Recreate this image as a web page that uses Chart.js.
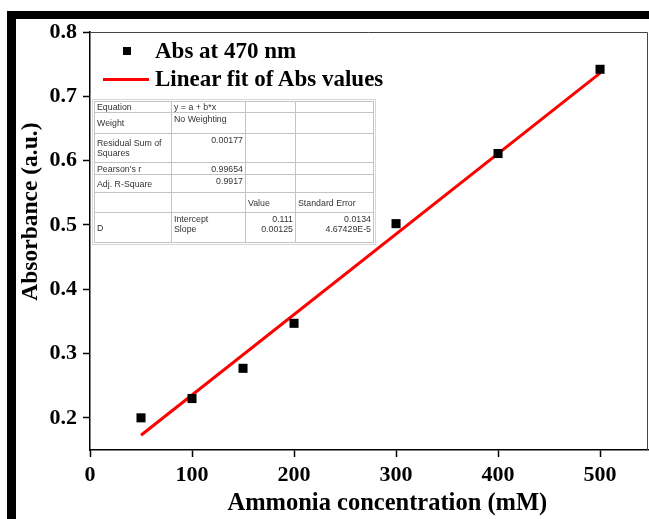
<!DOCTYPE html>
<html>
<head>
<meta charset="utf-8">
<script src="https://cdn.jsdelivr.net/npm/chart.js@4/dist/chart.umd.min.js"></script>
<style>
  html, body { margin: 0; padding: 0; background: #ffffff; }
  #wrap { position: relative; width: 649px; height: 519px; overflow: hidden; background: #ffffff; }
  #c { position: absolute; left: 0; top: 0; }
  .bar { position: absolute; background: #000; }
  #legend { position: absolute; left: 0; top: 0; font-family: 'Liberation Serif', 'Times New Roman', serif; font-weight: bold; font-size: 23px; color: #000; }
  .lg-item { position: absolute; white-space: nowrap; line-height: 26px; }
  #stats { position: absolute; left: 94px; top: 101px; border-collapse: collapse; font-family: 'Liberation Sans', Arial, sans-serif; font-size: 8.8px; color: #333; background: #fff; table-layout: fixed; }
  #stats td { border: 1px solid #c4c4c4; padding: 0 2px; vertical-align: middle; line-height: 10px; overflow: hidden; white-space: pre-line; box-sizing: border-box; }
  #stats td.num { text-align: right; vertical-align: top; padding-top: 1px; }
  #stats td.top { vertical-align: top; padding-top: 1px; }
  #stats { outline: 1px solid #d8d8d8; outline-offset: 1px; }
</style>
</head>
<body>
<div id="wrap">
  <canvas id="c" width="649" height="519"></canvas>
  <div class="bar" style="left:7px;top:11px;width:642px;height:8px;"></div>
  <div class="bar" style="left:7px;top:11px;width:9px;height:508px;"></div>
  <div id="legend"></div>
  <table id="stats"></table>
</div>
<script>
// ---------- data ----------
const concentrations = [50, 100, 150, 200, 300, 400, 500];
const absorbance = [0.200, 0.230, 0.277, 0.347, 0.502, 0.611, 0.742];
const fitConcentrations = [50, 500];
const fitAbsorbance = [0.173, 0.736];
const seriesNames = ['Abs at 470 nm', 'Linear fit of Abs values'];
const xTitle = 'Ammonia concentration (mM)';
const yTitle = 'Absorbance (a.u.)';
const xTickStep = 100;
const yTickStep = 0.1;
const statsRows = [
  ['Equation', 'y = a + b*x', '', ''],
  ['Weight', 'No Weighting', '', ''],
  ['Residual Sum of\nSquares', '0.00177', '', ''],
  ["Pearson's r", '0.99654', '', ''],
  ['Adj. R-Square', '0.9917', '', ''],
  ['', '', 'Value', 'Standard Error'],
  ['D', 'Intercept\nSlope', '0.111\n0.00125', '0.0134\n4.67429E-5']
];

// ---------- stats table ----------
const rowHeights = [11, 21, 29, 9, 18, 20, 30];
const colWidths = [77, 74, 50, 78];
const numCell = (r, c) => (c === 1 && r >= 2 && r <= 4) || (c >= 2 && r === 6);
const stats = document.getElementById('stats');
const cg = document.createElement('colgroup');
colWidths.forEach(w => { const col = document.createElement('col'); col.style.width = w + 'px'; cg.appendChild(col); });
stats.appendChild(cg);
statsRows.forEach((row, r) => {
  const tr = document.createElement('tr');
  tr.style.height = rowHeights[r] + 'px';
  row.forEach((txt, c) => {
    const td = document.createElement('td');
    td.textContent = txt;
    if (numCell(r, c)) td.className = 'num';
    else if ((c === 1 && r === 1) || (r === 6)) td.className = 'top';
    if (r === 6 && c === 0) { td.className = ''; td.style.verticalAlign = 'top'; td.style.paddingTop = '10px'; }
    tr.appendChild(td);
  });
  stats.appendChild(tr);
});

// ---------- legend ----------
const legend = document.getElementById('legend');
legend.innerHTML =
  '<div style="position:absolute;left:123px;top:47px;width:8px;height:8px;background:#000"></div>' +
  '<div class="lg-item" style="left:155px;top:38px">' + seriesNames[0] + '</div>' +
  '<div style="position:absolute;left:103px;top:78px;width:46px;height:3px;background:#ff0000"></div>' +
  '<div class="lg-item" style="left:155px;top:66px">' + seriesNames[1] + '</div>';

// ---------- chart ----------
const framePlugin = {
  id: 'frame',
  afterDatasetsDraw(chart) {
    const { ctx, chartArea: a } = chart;
    ctx.save();
    ctx.strokeStyle = '#444';
    ctx.lineWidth = 1;
    ctx.beginPath();
    ctx.moveTo(a.left, a.top + 0.5);
    ctx.lineTo(a.right - 0.5, a.top + 0.5);
    ctx.lineTo(a.right - 0.5, a.bottom);
    ctx.stroke();
    ctx.restore();
  }
};

const tickFont = { family: "'Liberation Serif', 'Times New Roman', serif", weight: 'bold', size: 22 };
const pad = (n) => '\u00A0'.repeat(n);

new Chart(document.getElementById('c'), {
  type: 'scatter',
  data: {
    datasets: [
      {
        label: seriesNames[0],
        data: concentrations.map((x, i) => ({ x, y: absorbance[i] })),
        pointStyle: 'rect',
        pointRadius: 6.4,
        pointHoverRadius: 6.4,
        backgroundColor: '#000',
        borderColor: '#000',
        borderWidth: 0,
        order: 0
      },
      {
        type: 'line',
        label: seriesNames[1],
        data: fitConcentrations.map((x, i) => ({ x, y: fitAbsorbance[i] })),
        borderColor: '#ff0000',
        borderWidth: 3,
        pointRadius: 0,
        showLine: true,
        fill: false,
        order: 1
      }
    ]
  },
  options: {
    responsive: false,
    animation: false,
    devicePixelRatio: 1,
    layout: { autoPadding: false, padding: { top: 32, right: 1, left: 0, bottom: 0 } },
    plugins: { legend: { display: false }, tooltip: { enabled: false } },
    scales: {
      x: {
        type: 'linear',
        min: 0,
        max: 547,
        afterFit(s) { s.height = 69; s.paddingLeft = 0; s.paddingRight = 0; },
        border: { display: true, color: '#000', width: 1.5 },
        grid: { drawOnChartArea: false, drawTicks: true, tickLength: 7, color: '#000', tickWidth: 1.5 },
        ticks: { stepSize: xTickStep, includeBounds: false, color: '#000', font: tickFont, padding: 5, maxRotation: 0 },
        title: { display: true, text: pad(6) + xTitle, color: '#000', font: { family: tickFont.family, weight: 'bold', size: 24.5 }, padding: { top: 0, bottom: 1 } }
      },
      y: {
        type: 'linear',
        min: 0.15,
        max: 0.8,
        afterFit(s) { s.width = 90; s.paddingTop = 0; s.paddingBottom = 0; },
        border: { display: true, color: '#000', width: 1.5 },
        grid: { drawOnChartArea: false, drawTicks: true, tickLength: 7, color: '#000', tickWidth: 1.5 },
        ticks: { stepSize: yTickStep, includeBounds: false, color: '#000', font: tickFont, padding: 6 },
        title: { display: true, text: pad(10) + yTitle, color: '#000', font: { family: tickFont.family, weight: 'bold', size: 23.5 }, padding: { top: 17, bottom: 0 } }
      }
    }
  },
  plugins: [framePlugin]
});
</script>
</body>
</html>
